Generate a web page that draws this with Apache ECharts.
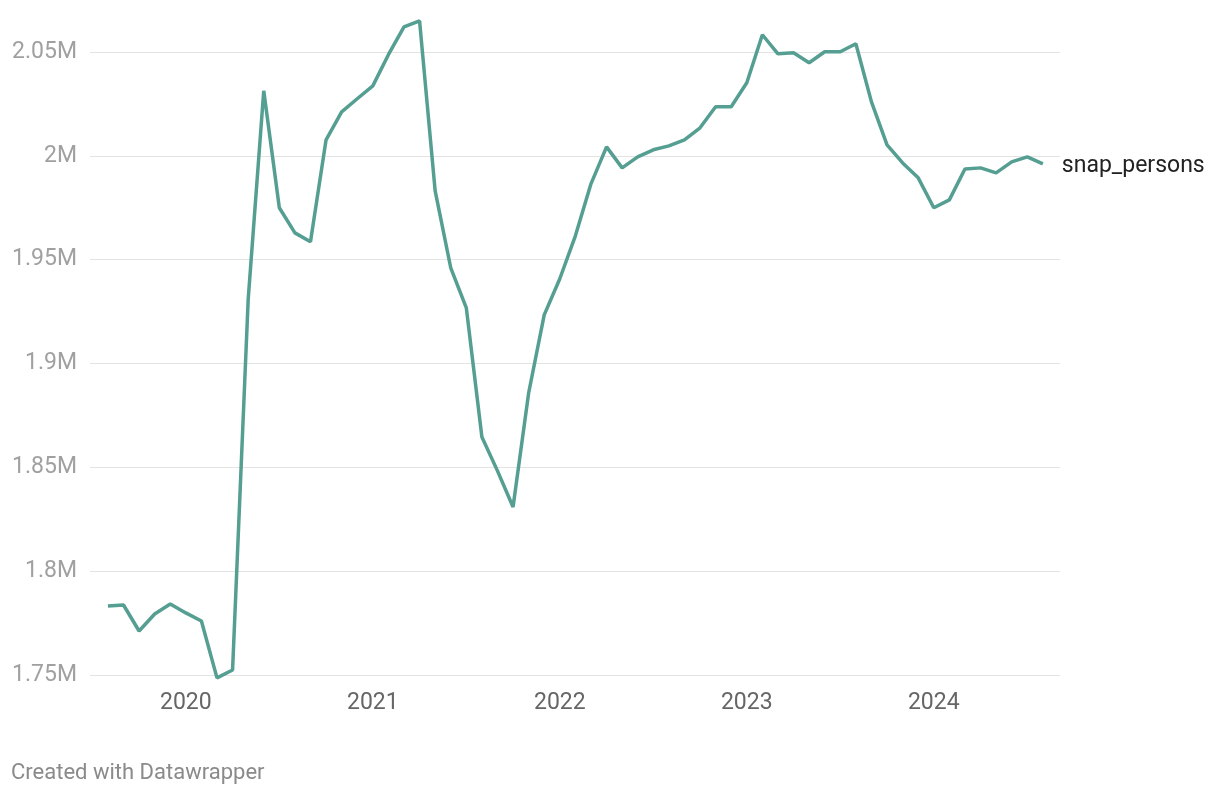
<!DOCTYPE HTML>
<html>
<head>
    <meta http-equiv="Content-Type" content="text/html; charset=UTF-8">
    <title>snap_persons</title>
    <script src="https://cdn.jsdelivr.net/npm/echarts@6/dist/echarts.min.js"></script>
    <style>
        html, body { margin: 0; padding: 0; background: #fff; }
        #main { width: 1220px; height: 794px; }
    </style>
</head>
<body>
<div id="main"></div>
<script>
    // monthly values, Aug 2019 .. Aug 2024
    var startYear = 2019, startMonth = 8;
    var snapPersons = [
        1783200, 1783700, 1771200, 1779400, 1784200,
        1779900, 1776000, 1748600, 1752400, 1930600, 2031300, 1975000, 1962900, 1958600, 2007700, 2021200, 2027500,
        2033700, 2048700, 2062100, 2065000, 1983100, 1946100, 1926800, 1864600, 1848300, 1830900, 1885800, 1923400,
        1940800, 1961500, 1986500, 2004300, 1994200, 1999500, 2002900, 2004800, 2007700, 2013500, 2023600, 2023600,
        2035200, 2058300, 2049100, 2049600, 2044800, 2050100, 2050100, 2054000, 2026000, 2005300, 1996600, 1989400,
        1975000, 1978800, 1993700, 1994200, 1991800, 1997100, 1999500, 1996100
    ];
    var yearTicks = [2020, 2021, 2022, 2023, 2024];
    var yTicks = ['1.75M', '1.8M', '1.85M', '1.9M', '1.95M', '2M', '2.05M'];

    // x = months since start; year ticks sit on January of each year
    var points = snapPersons.map(function (v, i) { return [i, v]; });
    var yearPos = yearTicks.map(function (y) { return (y - startYear) * 12 - (startMonth - 1); });

    var myChart = echarts.init(document.getElementById('main'));
    var option = {
        backgroundColor: '#fff',
        animation: false,
        textStyle: { fontFamily: 'Roboto' },
        title: {
            text: 'Created with Datawrapper',
            left: 6, top: 757,
            textStyle: { fontSize: 22, fontWeight: 'normal', color: '#8a8a8a', fontFamily: 'Roboto' }
        },
        grid: { left: 90, right: 160, top: 52, bottom: 119 },
        xAxis: {
            type: 'value',
            min: -1.15,
            max: snapPersons.length - 1 + 1.1,
            axisLine: { show: false },
            axisTick: { show: false },
            splitLine: { show: false },
            axisLabel: {
                customValues: yearPos,
                formatter: function (v) { return String(yearTicks[yearPos.indexOf(Math.round(v))]); },
                color: '#666', fontSize: 23, margin: 17, fontFamily: 'Roboto'
            }
        },
        yAxis: {
            type: 'value',
            min: 1750000, max: 2050000, interval: 50000,
            axisLine: { show: false },
            axisTick: { show: false },
            splitLine: { lineStyle: { color: '#e3e3e3', width: 1 } },
            axisLabel: {
                color: '#a0a0a0', fontSize: 23, margin: 13, fontFamily: 'Roboto',
                formatter: function (v) { return yTicks[Math.round((v - 1750000) / 50000)]; }
            }
        },
        series: [{
            name: 'snap_persons',
            type: 'line',
            data: points,
            clip: false,
            showSymbol: false,
            lineStyle: { color: '#559e92', width: 3.5 },
            itemStyle: { color: '#559e92' },
            endLabel: {
                show: true,
                formatter: '{a}',
                distance: 19,
                offset: [0, 2],
                color: '#222', fontSize: 23, fontFamily: 'Roboto'
            }
        }]
    };
    myChart.setOption(option);
</script>
</body>
</html>
